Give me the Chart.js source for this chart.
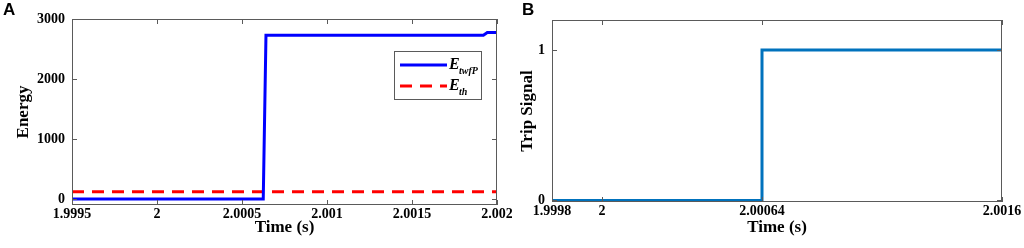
<!DOCTYPE html>
<html>
<head>
<meta charset="utf-8">
<script src="https://cdn.jsdelivr.net/npm/chart.js@4"></script>
<style>
body { margin: 0; background: #fff; width: 1024px; height: 248px; overflow: hidden; position: relative; }
.panel { position: absolute; top: 0; width: 512px; height: 248px; }
.tag { position: absolute; top: 0; font: bold 17px "Liberation Sans", Arial, sans-serif; color: #000; }
</style>
</head>
<body>
<div class="panel" style="left:0"><canvas id="chartA"></canvas></div>
<div class="panel" style="left:512px"><canvas id="chartB"></canvas></div>
<div class="tag" style="left:3px">A</div>
<div class="tag" style="left:522px">B</div>
<script>
// Panel A: energy vs time
const timeA = [1.9995, 2.000625, 2.000641, 2.00192, 2.001943, 2.002];
const energyTwfP = [0, 0, 2730, 2730, 2775, 2775];
const timeTh = [1.9995, 2.002];
const energyTh = [120, 120];
const ticksAX = [1.9995, 2, 2.0005, 2.001, 2.0015, 2.002];
const labelsAX = ['1.9995', '2', '2.0005', '2.001', '2.0015', '2.002'];
const ticksAY = [0, 1000, 2000, 3000];
const labelsAY = ['0', '1000', '2000', '3000'];

// Panel B: trip signal vs time
const timeB = [1.9998, 2.00064, 2.00064, 2.0016];
const tripSignal = [0, 0, 1, 1];
const ticksBX = [1.9998, 2, 2.00064, 2.0016];
const labelsBX = ['1.9998', '2', '2.00064', '2.0016'];
const ticksBY = [0, 1];
const labelsBY = ['0', '1'];

const serif = '"Liberation Serif", "Times New Roman", serif';
const tickFont = { family: serif, size: 14, weight: 'bold' };
const titleFont = { family: serif, size: 17, weight: 'bold' };

const pts = (xs, ys) => xs.map((x, i) => ({ x: x, y: ys[i] }));

// box around the plot with inward tick marks, MATLAB style
const framePlugin = {
    id: 'frame',
    afterDatasetsDraw(chart) {
        const { ctx, chartArea: a, scales } = chart;
        ctx.save();
        ctx.strokeStyle = '#5a5a5a';
        ctx.lineWidth = 1;
        ctx.strokeRect(a.left + 0.5, a.top + 0.5, a.width - 1, a.height - 1);
        ctx.beginPath();
        scales.x.ticks.forEach(t => {
            const px = Math.round(scales.x.getPixelForValue(t.value)) + 0.5;
            ctx.moveTo(px, a.bottom); ctx.lineTo(px, a.bottom - 5);
            ctx.moveTo(px, a.top); ctx.lineTo(px, a.top + 5);
        });
        scales.y.ticks.forEach(t => {
            const py = Math.round(scales.y.getPixelForValue(t.value)) + 0.5;
            ctx.moveTo(a.left, py); ctx.lineTo(a.left + 5, py);
            ctx.moveTo(a.right, py); ctx.lineTo(a.right - 5, py);
        });
        ctx.stroke();
        ctx.restore();
    }
};

// legend inside panel A with subscripted labels
const legendPlugin = {
    id: 'innerLegend',
    afterDraw(chart) {
        if (chart.canvas.id !== 'chartA') return;
        const { ctx, chartArea: a } = chart;
        const x0 = a.right - 103, y0 = a.top + 32, w = 87, h = 48;
        ctx.save();
        ctx.fillStyle = '#fff';
        ctx.fillRect(x0, y0, w, h);
        ctx.strokeStyle = '#5a5a5a';
        ctx.lineWidth = 1;
        ctx.strokeRect(x0 + 0.5, y0 + 0.5, w, h);
        const rows = [
            { ds: chart.data.datasets[0], sub: 'twfP', y: y0 + 14 },
            { ds: chart.data.datasets[1], sub: 'th', y: y0 + 35 }
        ];
        rows.forEach(r => {
            ctx.strokeStyle = r.ds.borderColor;
            ctx.lineWidth = 3;
            ctx.setLineDash(r.ds.borderDash || []);
            ctx.beginPath();
            ctx.moveTo(x0 + 6, r.y);
            ctx.lineTo(x0 + 53, r.y);
            ctx.stroke();
            ctx.setLineDash([]);
            ctx.fillStyle = '#000';
            ctx.textBaseline = 'middle';
            ctx.font = 'italic bold 16px ' + serif;
            ctx.fillText('E', x0 + 55, r.y);
            ctx.font = 'italic bold 10px ' + serif;
            ctx.fillText(r.sub, x0 + 65, r.y + 6);
        });
        ctx.restore();
    }
};

function axisX(min, max, ticks, labels, height) {
    return {
        type: 'linear', min: min, max: max,
        grid: { display: false, drawTicks: false },
        border: { display: false },
        afterBuildTicks: s => { s.ticks = ticks.map(v => ({ value: v })); },
        afterFit: s => { s.height = height; s.paddingLeft = 0; s.paddingRight = 0; },
        ticks: {
            autoSkip: false, maxRotation: 0, padding: 1, color: '#000', font: tickFont,
            callback: (v, i) => labels[i]
        },
        title: { display: true, text: 'Time (s)', color: '#000', font: titleFont, padding: { top: 0, bottom: 10 } }
    };
}

function axisY(min, max, ticks, labels, width, title, titlePad) {
    return {
        min: min, max: max,
        grid: { display: false, drawTicks: false },
        border: { display: false },
        afterBuildTicks: s => { s.ticks = ticks.map(v => ({ value: v })); },
        afterFit: s => { s.width = width; s.paddingTop = 0; s.paddingBottom = 0; },
        ticks: {
            autoSkip: false, padding: 7, color: '#000', font: tickFont,
            callback: (v, i) => labels[i]
        },
        title: { display: true, text: title, color: '#000', font: titleFont, padding: { top: titlePad, bottom: 0 } }
    };
}

new Chart(document.getElementById('chartA'), {
    type: 'line',
    data: {
        datasets: [
            {
                label: 'EtwfP',
                data: pts(timeA, energyTwfP),
                borderColor: '#0000ff',
                borderWidth: 3,
                pointRadius: 0,
                tension: 0
            },
            {
                label: 'Eth',
                data: pts(timeTh, energyTh),
                borderColor: '#ff0000',
                borderWidth: 3,
                borderDash: [12, 8],
                pointRadius: 0,
                tension: 0
            }
        ]
    },
    options: {
        responsive: true,
        maintainAspectRatio: false,
        animation: false,
        layout: { padding: { top: 19, right: 15, left: 0, bottom: 0 } },
        plugins: { legend: { display: false }, tooltip: { enabled: false } },
        scales: {
            x: axisX(1.9995, 2.002, ticksAX, labelsAX, 43),
            y: axisY(-100, 3000, ticksAY, labelsAY, 72, 'Energy', 13)
        }
    },
    plugins: [framePlugin, legendPlugin]
});

new Chart(document.getElementById('chartB'), {
    type: 'line',
    data: {
        datasets: [{
            label: 'Trip Signal',
            data: pts(timeB, tripSignal),
            borderColor: '#0072bd',
            borderWidth: 3,
            pointRadius: 0,
            tension: 0
        }]
    },
    options: {
        responsive: true,
        maintainAspectRatio: false,
        animation: false,
        layout: { padding: { top: 20, right: 22, left: 0, bottom: 0 } },
        plugins: { legend: { display: false }, tooltip: { enabled: false } },
        scales: {
            x: axisX(1.9998, 2.0016, ticksBX, labelsBX, 46),
            y: axisY(-0.01, 1.2, ticksBY, labelsBY, 40, 'Trip Signal', 5)
        }
    },
    plugins: [framePlugin]
});
</script>
</body>
</html>
